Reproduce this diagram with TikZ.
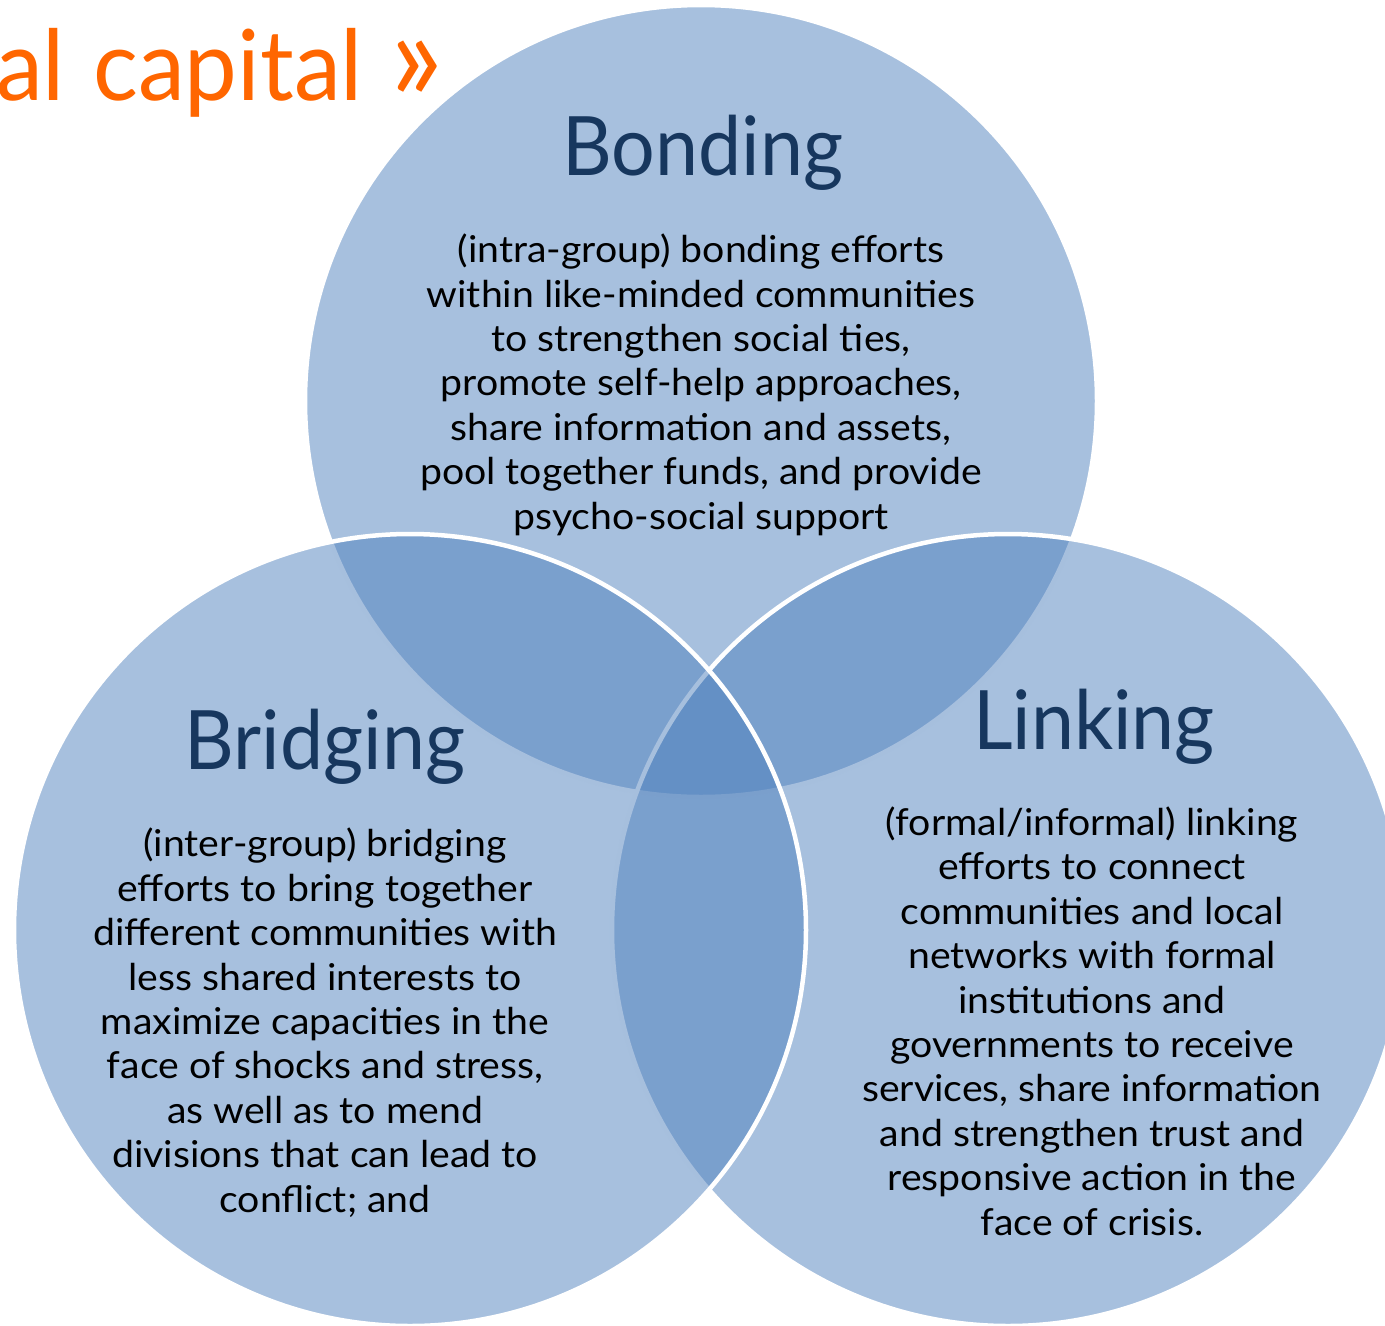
\documentclass[tikz,border=0pt]{standalone}
\usepackage{fontspec}
\setmainfont{Lato}
\newfontfamily\bodyfont[FakeStretch=1.06]{Lato}
\newfontfamily\headfont[FakeStretch=0.94]{Lato}
\newfontfamily\titlefont[FakeStretch=0.96]{Lato}
\definecolor{vennblue}{HTML}{4F81BD}
\definecolor{headblue}{HTML}{17375E}
\definecolor{titleorange}{HTML}{FF6600}
\tikzset{
  venn/.style={fill=vennblue, fill opacity=0.5, draw=white, draw opacity=1, line width=4.5pt},
  bodytext/.style={align=center, anchor=base, text=black, font=\bodyfont\fontsize{37}{44.4}\selectfont, inner sep=0pt},
  headtext/.style={anchor=base, text=headblue, font=\headfont\fontsize{82}{90}\selectfont, inner sep=0pt},
  pagetitle/.style={anchor=base west, text=titleorange, font=\titlefont\fontsize{98}{110}\selectfont, inner sep=0pt}
}
\begin{document}
\begin{tikzpicture}[x=1pt,y=-1pt]
\clip (0,0) rectangle (1385,1326);
\path[venn] (701,401) circle[radius=396];
\path[venn] (1008,930) circle[radius=396];
\path[venn] (410,930) circle[radius=396];
\node[pagetitle] (title) at (-4,100) {al\kern4pt\ capital\kern3pt\ {\fontsize{128}{128}\selectfont »}};
\node[headtext] (bondinghead) at (703,175) {Bonding};
\node[headtext] (bridginghead) at (325,769) {Bridging};
\node[headtext] (linkinghead) at (1094,749) {Linking};
\node[bodytext] (bondingbody) at (701,529) {(intra-group) bonding efforts\\within like-minded communities\\to strengthen social ties,\\promote self-help approaches,\\share information and assets,\\pool together funds, and provide\\psycho-social support};
\node[bodytext] (bridgingbody) at (325,1212) {(inter-group) bridging\\efforts to bring together\\different communities with\\less shared interests to\\maximize capacities in the\\face of shocks and stress,\\as well as to mend\\divisions that can lead to\\conflict; and};
\node[bodytext] (linkingbody) at (1092,1235) {(formal/informal) linking\\efforts to connect\\communities and local\\networks with formal\\institutions and\\governments to receive\\services, share information\\and strengthen trust and\\responsive action in the\\face of crisis.};
\end{tikzpicture}
\end{document}
